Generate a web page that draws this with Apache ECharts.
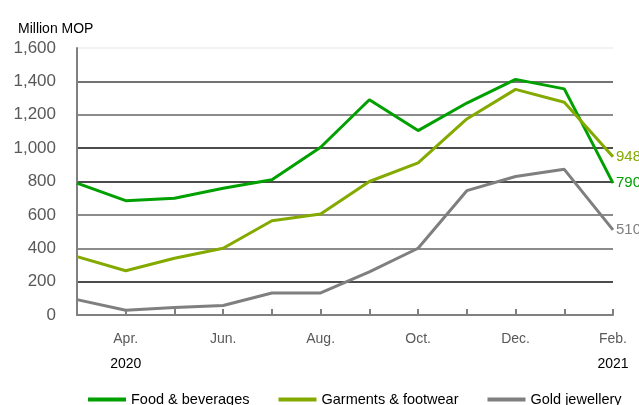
<!DOCTYPE html>
<html>
<head>
<meta charset="utf-8">
<script src="https://cdn.jsdelivr.net/npm/echarts@6/dist/echarts.min.js"></script>
<style>
  html, body { margin: 0; padding: 0; background: #fff; }
  #chart { width: 639px; height: 405px; }
</style>
</head>
<body>
<div id="chart"></div>
<script>
var months = ['Mar.', 'Apr.', 'May', 'Jun.', 'Jul.', 'Aug.', 'Sep.', 'Oct.', 'Nov.', 'Dec.', 'Jan.', 'Feb.'];
var years = { 1: '2020', 11: '2021' };
var food = [790, 685, 700, 760, 810, 1005, 1290, 1105, 1270, 1412, 1355, 790];
var garments = [350, 265, 340, 400, 565, 605, 800, 912, 1175, 1352, 1275, 948];
var gold = [92, 28, 45, 57, 132, 132, 258, 400, 745, 830, 873, 510];
var yTicks = [0, 200, 400, 600, 800, 1000, 1200, 1400, 1600];

// no narrow font in the sandbox, so smaller Liberation Sans to keep the widths
var font = '"Liberation Sans", Arial, sans-serif';

var chart = echarts.init(document.getElementById('chart'));

function lineSeries(name, data, color) {
    return {
        name: name,
        type: 'line',
        data: data,
        symbol: 'none',
        lineStyle: { color: color, width: 3 },
        itemStyle: { color: color },
        endLabel: {
            show: true,
            formatter: '{c}',
            color: color,
            fontFamily: font,
            fontSize: 15,
            distance: 3
        }
    };
}

chart.setOption({
    animation: false,
    title: {
        text: 'Million MOP',
        left: 13,
        top: 17,
        textStyle: { fontFamily: font, fontSize: 14, fontWeight: 'normal', color: '#000' }
    },
    legend: {
        top: 387,
        left: 83,
        icon: 'rect',
        itemWidth: 38,
        itemHeight: 4,
        itemGap: 29,
        textStyle: { fontFamily: font, fontSize: 14.5, color: '#000' },
        data: ['Food & beverages', 'Garments & footwear', 'Gold jewellery']
    },
    grid: { left: 77, right: 26, top: 48, bottom: 90 },
    xAxis: {
        type: 'category',
        data: months,
        boundaryGap: false,
        axisLine: { lineStyle: { color: '#808080', width: 2 } },
        axisTick: { inside: true, length: 6, interval: 0, lineStyle: { color: '#808080', width: 2 } },
        axisLabel: {
            interval: function (i) { return i % 2 === 1; },
            margin: 12,
            formatter: function (v, i) {
                return years[i] ? '{m|' + v + '}\n{y|' + years[i] + '}' : '{m|' + v + '}';
            },
            rich: {
                m: { fontFamily: font, fontSize: 14, color: '#595959', lineHeight: 25 },
                y: { fontFamily: font, fontSize: 14, color: '#000', lineHeight: 25 }
            }
        }
    },
    yAxis: {
        type: 'value',
        min: yTicks[0],
        max: yTicks[yTicks.length - 1],
        interval: 200,
        axisLine: { show: true, lineStyle: { color: '#808080', width: 2 } },
        axisTick: { show: false },
        axisLabel: {
            margin: 21,
            fontFamily: font,
            fontSize: 17,
            color: '#595959',
            formatter: function (v) { return v.toLocaleString('en-US'); }
        },
        splitLine: {
            lineStyle: {
                width: 1.5,
                color: ['#808080', '#111', '#666', '#666', '#111', '#111', '#666', '#444', '#eee']
            }
        }
    },
    series: [
        lineSeries('Food & beverages', food, '#00a000'),
        lineSeries('Garments & footwear', garments, '#84aa00'),
        lineSeries('Gold jewellery', gold, '#7f7f7f')
    ]
});
</script>
</body>
</html>
